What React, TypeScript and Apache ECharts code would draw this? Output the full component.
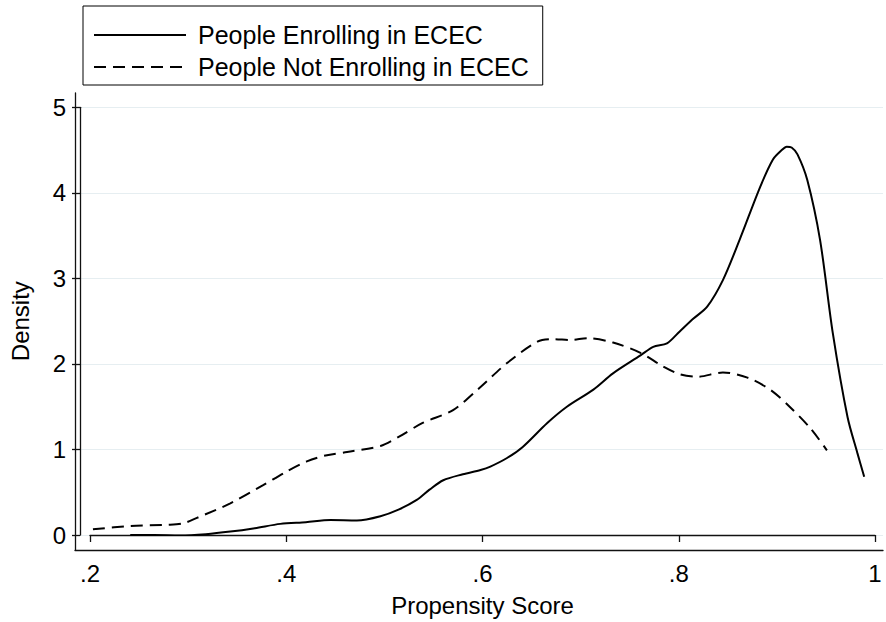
import React, { useEffect, useRef } from "react";
import * as echarts from "echarts";

const seriesNames = ["People Enrolling in ECEC", "People Not Enrolling in ECEC"];
const xTitle = "Propensity Score";
const yTitle = "Density";

const enrolledScore = [
  0.241, 0.265, 0.292, 0.318, 0.343, 0.368, 0.394, 0.42, 0.445, 0.472, 0.496, 0.515,
  0.533, 0.546, 0.56, 0.58, 0.598, 0.608, 0.625, 0.641, 0.666, 0.686, 0.713, 0.733,
  0.761, 0.774, 0.788, 0.801, 0.815, 0.829, 0.845, 0.862, 0.883, 0.896, 0.905, 0.91,
  0.915, 0.921, 0.931, 0.944, 0.957, 0.972, 0.982, 0.989,
];
const enrolledDensity = [
  0.0, 0.0, -0.005, 0.01, 0.04, 0.08, 0.13, 0.15, 0.175, 0.17, 0.22, 0.3,
  0.41, 0.53, 0.64, 0.71, 0.76, 0.8, 0.9, 1.03, 1.31, 1.5, 1.7, 1.89,
  2.1, 2.2, 2.24, 2.38, 2.53, 2.67, 2.98, 3.45, 4.07, 4.39, 4.5, 4.54,
  4.53, 4.45, 4.15, 3.45, 2.36, 1.38, 0.96, 0.68,
];

const notEnrolledScore = [
  0.203, 0.241, 0.28, 0.295, 0.309, 0.343, 0.376, 0.4, 0.421, 0.44, 0.462, 0.496,
  0.515, 0.539, 0.57, 0.598, 0.625, 0.656, 0.672, 0.69, 0.707, 0.733, 0.761, 0.784,
  0.801, 0.819, 0.845, 0.87, 0.893, 0.913, 0.934, 0.951,
];
const notEnrolledDensity = [
  0.067, 0.105, 0.12, 0.137, 0.2, 0.37, 0.58, 0.74, 0.86, 0.93, 0.97, 1.04,
  1.15, 1.31, 1.46, 1.73, 2.01, 2.26, 2.29, 2.28, 2.3, 2.25, 2.13, 1.97,
  1.88, 1.85, 1.9, 1.84, 1.7, 1.5, 1.25, 0.99,
];

const xMin = 0.2;
const xMax = 1;
const xStep = 0.2;
const yMin = 0;
const yMax = 5;
const yStep = 1;

const FONT = "'Liberation Sans', Arial, Helvetica, sans-serif";

function pairs(xs: number[], ys: number[]) {
  return xs.map((x, i) => [x, ys[i]]);
}

function fmtX(v: number) {
  if (Math.abs(v - 1) < 1e-9) return "1";
  return v.toFixed(1).replace(/^0\./, ".");
}

export default function App() {
  const ref = useRef<HTMLDivElement>(null);
  useEffect(() => {
    if (!ref.current) return;
    const chart = echarts.init(ref.current, undefined, { renderer: "svg" });
    const axisLine = { show: true, lineStyle: { color: "#111", width: 1.3 } };
    chart.setOption({
      animation: false,
      backgroundColor: "#fff",
      textStyle: { fontFamily: FONT },
      grid: [
        { left: 75, right: 3, top: 93, bottom: 72 },
        { left: 75, right: 3, top: 107.3, bottom: 87 },
        { left: 90, right: 11, top: 107.3, bottom: 87 },
      ],
      xAxis: [
        {
          gridIndex: 0, type: "value", min: 0, max: 1,
          axisLine, axisTick: { show: false }, axisLabel: { show: false }, splitLine: { show: false },
        },
        { gridIndex: 1, type: "value", min: 0, max: 1, show: false },
        {
          gridIndex: 2, type: "value", min: xMin, max: xMax, interval: xStep, offset: 15,
          axisLine,
          axisTick: { show: true, length: 7, lineStyle: { color: "#111", width: 1.3 } },
          axisLabel: { margin: 11, fontSize: 24, color: "#000", fontFamily: FONT, formatter: fmtX },
          splitLine: { show: false },
          name: xTitle, nameLocation: "middle", nameGap: 43,
          nameTextStyle: { fontSize: 24, color: "#000", fontFamily: FONT },
        },
      ],
      yAxis: [
        {
          gridIndex: 0, type: "value", min: 0, max: 1,
          axisLine, axisTick: { show: false }, axisLabel: { show: false }, splitLine: { show: false },
        },
        {
          gridIndex: 1, type: "value", min: yMin, max: yMax, interval: yStep,
          axisLine,
          axisTick: { show: true, length: 8, lineStyle: { color: "#111", width: 1.3 } },
          axisLabel: { margin: 14, fontSize: 24, color: "#000", fontFamily: FONT },
          splitLine: { show: true, lineStyle: { color: "#e6eef1", width: 1.2 } },
          name: yTitle, nameLocation: "middle", nameGap: 48,
          nameTextStyle: { fontSize: 24, color: "#000", fontFamily: FONT },
        },
        { gridIndex: 2, type: "value", min: yMin, max: yMax, show: false },
      ],
      legend: {
        data: seriesNames,
        orient: "vertical",
        left: 83,
        top: 6,
        itemWidth: 92,
        itemHeight: 14,
        itemGap: 6,
        padding: [16, 14, 5, 10],
        borderColor: "#000",
        borderWidth: 1,
        itemStyle: { color: "transparent", borderWidth: 0, opacity: 0 },
        textStyle: { fontSize: 25, color: "#000", fontFamily: FONT, lineHeight: 26, padding: [0, 0, 0, 7] },
      },
      series: [
        {
          name: seriesNames[0],
          type: "line",
          xAxisIndex: 2,
          yAxisIndex: 2,
          data: pairs(enrolledScore, enrolledDensity),
          symbol: "none",
          showSymbol: false,
          smooth: 0.3,
          lineStyle: { color: "#000", width: 2, type: "solid" },
          itemStyle: { color: "#000" },
        },
        {
          name: seriesNames[1],
          type: "line",
          xAxisIndex: 2,
          yAxisIndex: 2,
          data: pairs(notEnrolledScore, notEnrolledDensity),
          symbol: "none",
          showSymbol: false,
          smooth: 0.3,
          lineStyle: { color: "#000", width: 2, type: [12, 7] },
          itemStyle: { color: "#000" },
        },
      ],
    });
    return () => chart.dispose();
  }, []);
  return (
    <div
      ref={ref}
      style={{ position: "absolute", left: 0, top: 0, width: 886, height: 622 }}
    />
  );
}
